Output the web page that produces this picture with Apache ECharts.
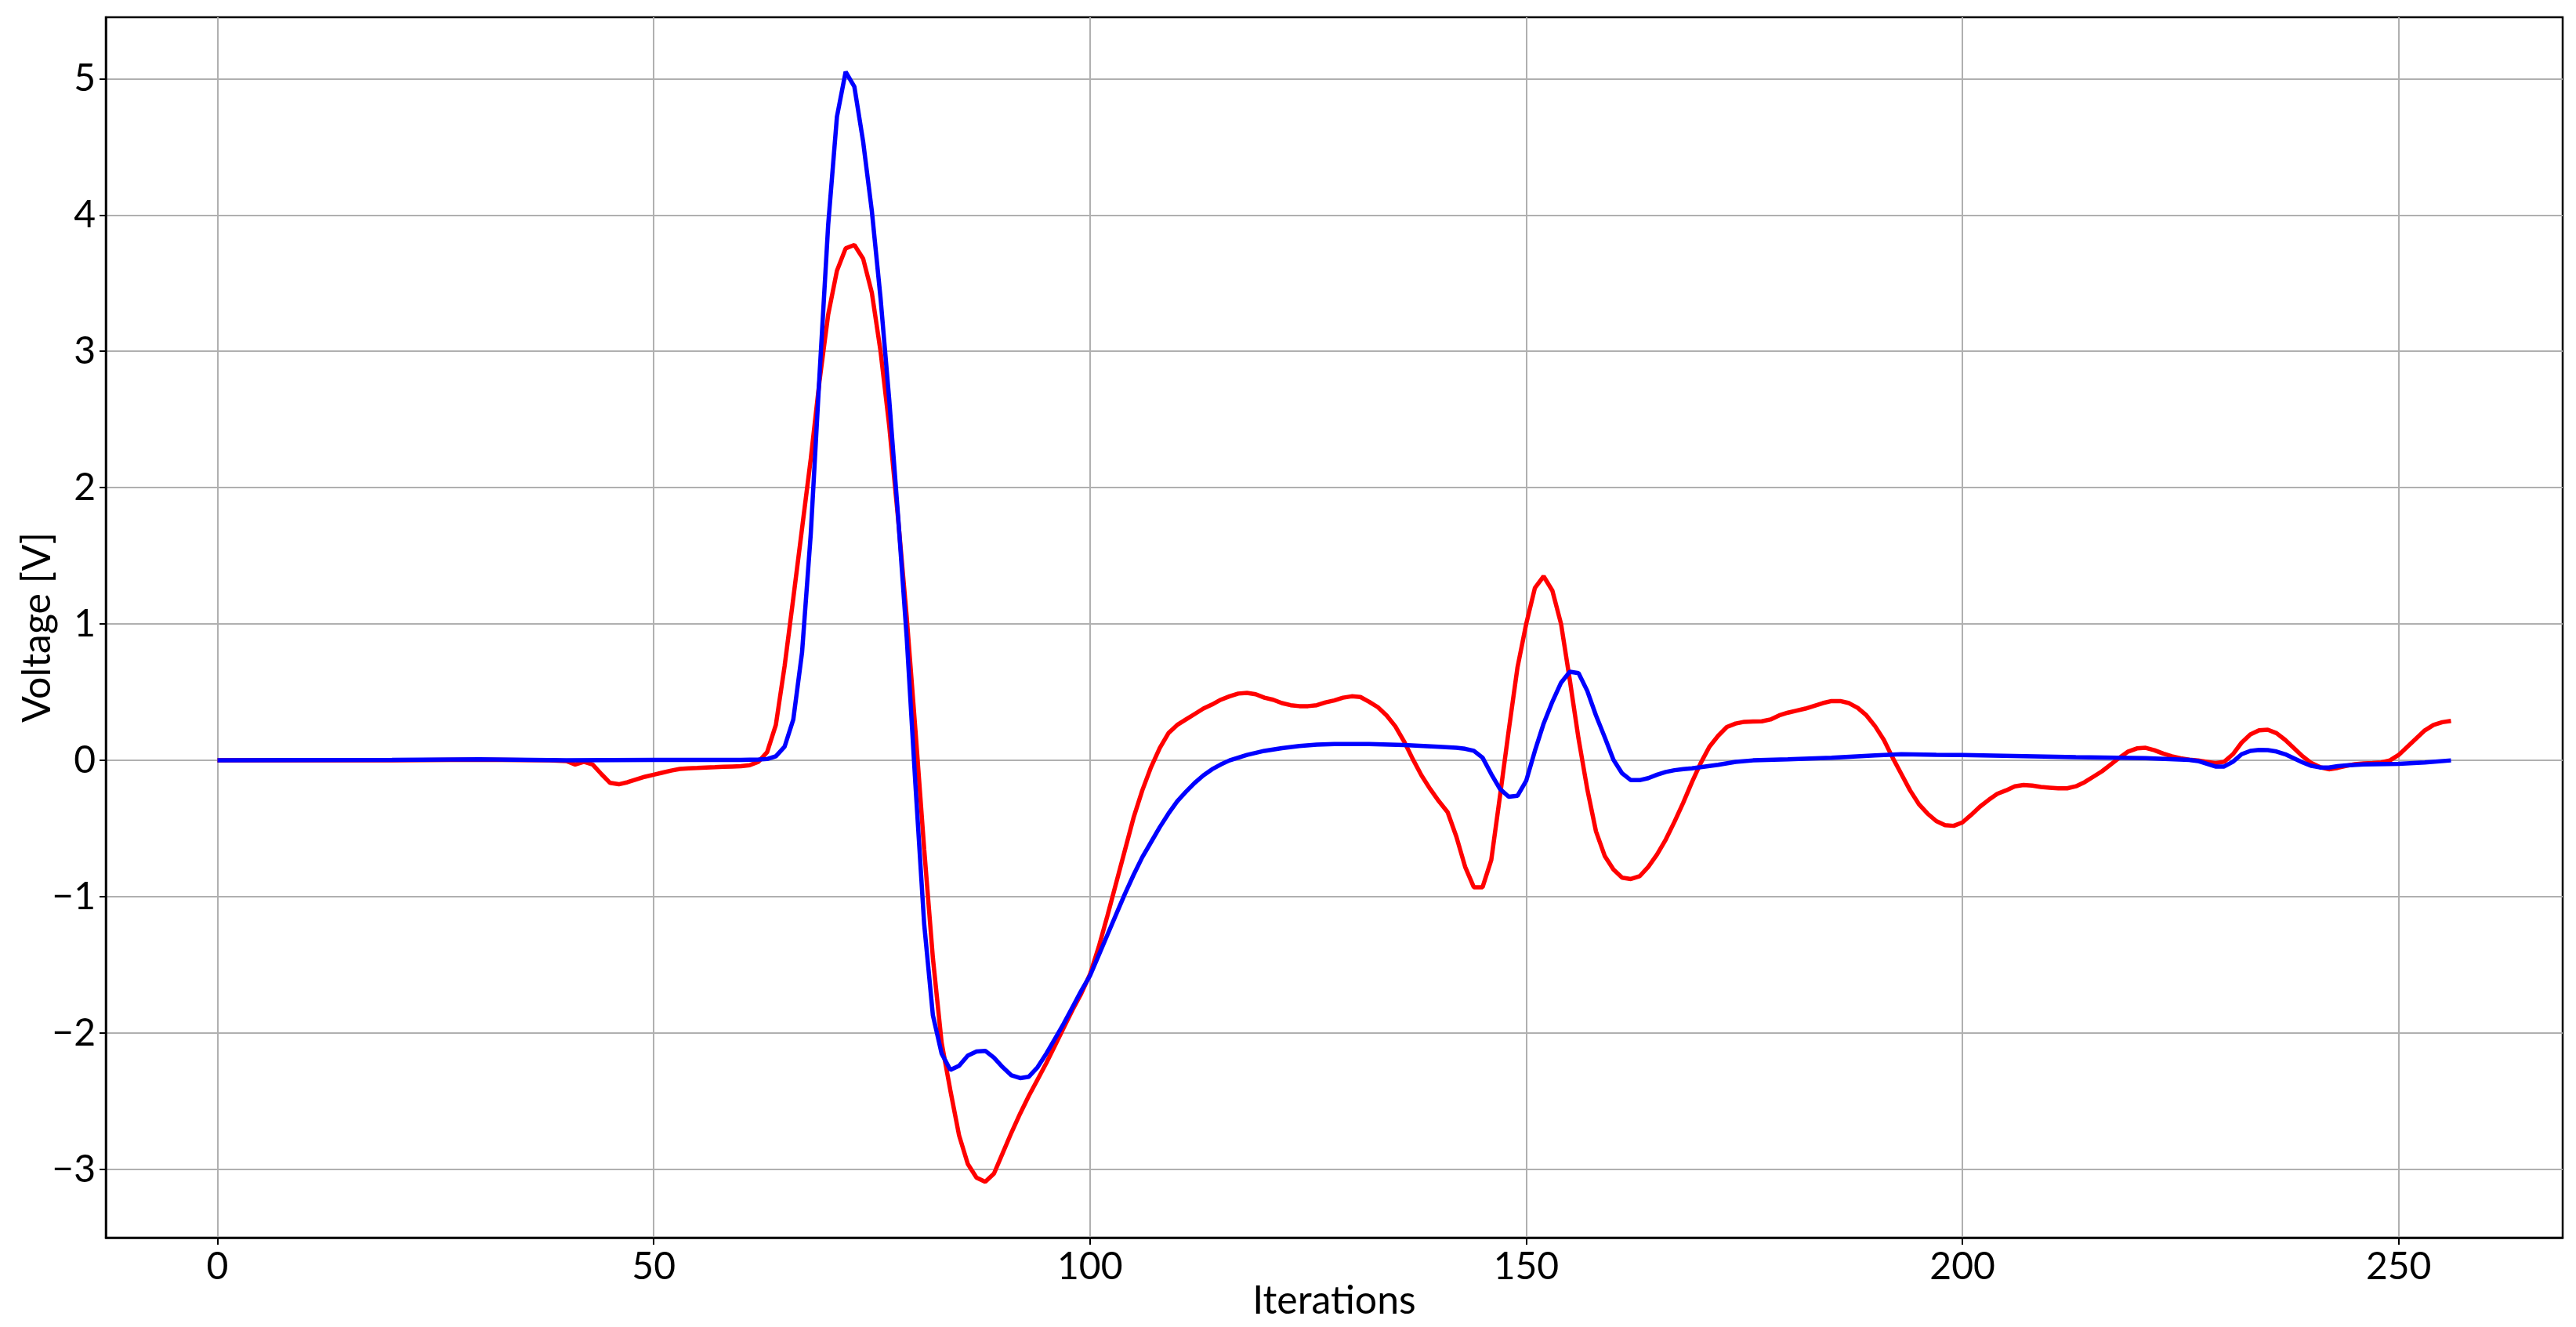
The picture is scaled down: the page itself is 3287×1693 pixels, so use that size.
<!DOCTYPE html>
<html>
<head>
<meta charset="utf-8">
<title>Voltage vs Iterations</title>
<script src="https://cdn.jsdelivr.net/npm/echarts@6.0.0/dist/echarts.min.js"></script>
<style>
  html, body { margin: 0; padding: 0; background: #fff; }
  #chart { width: 3287px; height: 1693px; }
</style>
</head>
<body>
<div id="chart"></div>
<script>
// red trace
var redIter = [0, 20, 30, 38, 40, 41, 42, 43, 44, 45, 46, 47, 48, 49, 50, 51, 52, 53, 54, 55, 56, 57, 58, 59, 60,
  61, 62, 63, 64, 65, 66, 67, 68, 69, 70, 71, 72, 73, 74, 75, 76, 77, 78, 79, 80,
  81, 82, 83, 84, 85, 86, 87, 88, 89, 90, 91, 92, 93, 94, 95, 96, 97, 98, 99, 100,
  101, 102, 103, 104, 105, 106, 107, 108, 109, 110, 111, 112, 113, 114, 115, 116, 117, 118, 119, 120,
  121, 122, 123, 124, 125, 126, 127, 128, 129, 130, 131, 132, 133, 134, 135, 136, 137, 138, 139, 140,
  141, 142, 143, 144, 145, 146, 147, 148, 149, 150, 151, 152, 153, 154, 155, 156, 157, 158, 159, 160,
  161, 162, 163, 164, 165, 166, 167, 168, 169, 170, 171, 172, 173, 174, 175, 176, 177, 178, 179, 180,
  181, 182, 183, 184, 185, 186, 187, 188, 189, 190, 191, 192, 193, 194, 195, 196, 197, 198, 199, 200,
  201, 202, 203, 204, 205, 206, 207, 208, 209, 210, 211, 212, 213, 214, 215, 216, 217, 218, 219, 220,
  221, 222, 223, 224, 225, 226, 227, 228, 229, 230, 231, 232, 233, 234, 235, 236, 237, 238, 239, 240,
  241, 242, 243, 244, 245, 246, 247, 248, 249, 250, 251, 252, 253, 254, 255, 256];
var redVolt = [0, 0, 0.005, 0, -0.005, -0.03, -0.01, -0.03, -0.1, -0.165, -0.175, -0.16, -0.14, -0.12, -0.105, -0.09, -0.075, -0.063, -0.058, -0.056, -0.052, -0.05, -0.047, -0.045, -0.043,
  -0.035, -0.01, 0.06, 0.26, 0.69, 1.19, 1.70, 2.21, 2.78, 3.27, 3.59, 3.755, 3.78, 3.68, 3.43, 3.0, 2.45, 1.78, 1.05, 0.22,
  -0.65, -1.45, -2.07, -2.42, -2.75, -2.96, -3.06, -3.09, -3.03, -2.88, -2.73, -2.59, -2.46, -2.34, -2.22, -2.09, -1.96, -1.83, -1.71, -1.57,
  -1.37, -1.14, -0.90, -0.66, -0.42, -0.22, -0.05, 0.09, 0.20, 0.26, 0.30, 0.34, 0.38, 0.41, 0.445, 0.47, 0.49, 0.495, 0.485, 0.46,
  0.445, 0.42, 0.405, 0.398, 0.398, 0.405, 0.425, 0.44, 0.46, 0.47, 0.465, 0.43, 0.39, 0.33, 0.25, 0.14, 0.01, -0.11, -0.21, -0.30,
  -0.38, -0.56, -0.78, -0.93, -0.93, -0.73, -0.26, 0.22, 0.68, 1.0, 1.265, 1.35, 1.245, 1.0, 0.59, 0.16, -0.21, -0.52, -0.70, -0.80,
  -0.86, -0.87, -0.85, -0.78, -0.69, -0.58, -0.45, -0.31, -0.16, -0.02, 0.10, 0.18, 0.245, 0.27, 0.283, 0.285, 0.287, 0.30, 0.33, 0.35,
  0.365, 0.38, 0.40, 0.42, 0.435, 0.435, 0.42, 0.385, 0.33, 0.25, 0.15, 0.02, -0.10, -0.22, -0.32, -0.39, -0.445, -0.475, -0.48, -0.455,
  -0.40, -0.34, -0.29, -0.245, -0.22, -0.19, -0.18, -0.185, -0.195, -0.20, -0.205, -0.205, -0.19, -0.16, -0.12, -0.08, -0.03, 0.02, 0.065, 0.088,
  0.092, 0.075, 0.05, 0.03, 0.015, 0.005, 0.0, -0.01, -0.02, -0.01, 0.045, 0.13, 0.19, 0.22, 0.225, 0.20, 0.15, 0.09, 0.03, -0.02,
  -0.05, -0.065, -0.055, -0.04, -0.028, -0.022, -0.02, -0.015, 0.0, 0.04, 0.10, 0.16, 0.22, 0.26, 0.28, 0.29];

// blue trace
var blueIter = [0, 20, 30, 40, 50, 60, 62, 63, 64, 65, 66, 67, 68, 69, 70, 71, 72, 73, 74, 75, 76, 77, 78, 79, 80,
  81, 82, 83, 84, 85, 86, 87, 88, 89, 90, 91, 92, 93, 94, 95, 96, 97, 98, 99, 100,
  101, 102, 103, 104, 105, 106, 107, 108, 109, 110, 111, 112, 113, 114, 115, 116, 117, 118, 120,
  122, 124, 126, 128, 132, 136, 140, 142, 143, 144, 145, 146, 147, 148, 149, 150,
  151, 152, 153, 154, 155, 156, 157, 158, 159, 160, 161, 162, 163, 164, 165, 166, 167, 168, 169, 170,
  172, 174, 176, 180, 185, 190, 193, 197, 200, 213, 221, 226, 227, 228, 229, 230,
  231, 232, 233, 234, 235, 236, 237, 238, 239, 240, 241, 242, 243, 244, 246, 250, 253, 256];
var blueVolt = [0, 0.003, 0.008, 0, 0.003, 0.004, 0.006, 0.01, 0.03, 0.1, 0.3, 0.79, 1.66, 2.82, 3.93, 4.72, 5.05, 4.94, 4.54, 4.03, 3.39, 2.64, 1.80, 0.90, -0.18,
  -1.2, -1.87, -2.15, -2.27, -2.24, -2.165, -2.135, -2.13, -2.18, -2.25, -2.31, -2.33, -2.32, -2.25, -2.15, -2.04, -1.93, -1.81, -1.69, -1.58,
  -1.43, -1.28, -1.13, -0.98, -0.84, -0.71, -0.60, -0.49, -0.39, -0.30, -0.23, -0.165, -0.11, -0.065, -0.03, 0.0, 0.02, 0.04, 0.07,
  0.09, 0.105, 0.115, 0.12, 0.12, 0.113, 0.10, 0.093, 0.085, 0.07, 0.02, -0.1, -0.21, -0.267, -0.26, -0.15,
  0.07, 0.27, 0.43, 0.57, 0.65, 0.64, 0.51, 0.33, 0.17, 0.005, -0.095, -0.145, -0.145, -0.13, -0.105, -0.085, -0.072, -0.064, -0.058, -0.05,
  -0.032, -0.011, 0.0, 0.008, 0.02, 0.036, 0.045, 0.041, 0.039, 0.023, 0.016, 0.004, -0.005, -0.025, -0.045, -0.045,
  -0.01, 0.045, 0.07, 0.077, 0.075, 0.065, 0.045, 0.015, -0.015, -0.04, -0.052, -0.052, -0.042, -0.036, -0.03, -0.025, -0.015, 0];

var xTicks = [0, 50, 100, 150, 200, 250];
var yTicks = [-3, -2, -1, 0, 1, 2, 3, 4, 5];

function pairs(xs, ys) {
  return xs.map(function (x, i) { return [x, ys[i]]; });
}

var font = 'Lato, "Open Sans", sans-serif';

var chart = echarts.init(document.getElementById('chart'), null, { renderer: 'canvas' });

chart.setOption({
  animation: false,
  backgroundColor: '#ffffff',
  grid: {
    left: 135,
    top: 22,
    right: 17,
    bottom: 114,
    outerBoundsMode: 'none',
    containLabel: false,
    show: true,
    borderColor: '#000000',
    borderWidth: 2.5,
    backgroundColor: 'transparent'
  },
  xAxis: {
    type: 'value',
    min: -12.8,
    max: 268.8,
    name: 'Iterations',
    nameLocation: 'middle',
    nameGap: 56,
    nameMoveOverlap: false,
    nameTextStyle: { fontFamily: font, fontSize: 50, color: '#000' },
    axisLine: { show: true, onZero: false, lineStyle: { color: '#000', width: 2.5 } },
    axisTick: { show: true, length: 9, customValues: xTicks, lineStyle: { color: '#000', width: 2 } },
    axisLabel: {
      customValues: xTicks,
      margin: 14,
      fontFamily: font,
      fontSize: 48,
      color: '#000'
    },
    splitLine: { show: true, lineStyle: { color: '#b0b0b0', width: 2 } }
  },
  yAxis: {
    type: 'value',
    min: -3.5,
    max: 5.45,
    name: 'Voltage [V]',
    nameLocation: 'middle',
    nameGap: 62,
    nameMoveOverlap: false,
    nameTextStyle: { fontFamily: font, fontSize: 50, color: '#000' },
    axisLine: { show: true, onZero: false, lineStyle: { color: '#000', width: 2.5 } },
    axisTick: { show: true, length: 8, customValues: yTicks, lineStyle: { color: '#000', width: 2 } },
    axisLabel: {
      customValues: yTicks,
      margin: 13,
      fontFamily: font,
      fontSize: 48,
      color: '#000',
      formatter: function (v) { return String(v).replace('-', '\u2212'); }
    },
    splitLine: { show: true, lineStyle: { color: '#b0b0b0', width: 2 } }
  },
  series: [{
    name: 'red',
    type: 'line',
    showSymbol: false,
    symbol: 'none',
    lineStyle: { color: '#ff0000', width: 5.5 },
    data: pairs(redIter, redVolt)
  }, {
    name: 'blue',
    type: 'line',
    showSymbol: false,
    symbol: 'none',
    lineStyle: { color: '#0000ff', width: 5.5 },
    data: pairs(blueIter, blueVolt)
  }]
});
</script>
</body>
</html>
